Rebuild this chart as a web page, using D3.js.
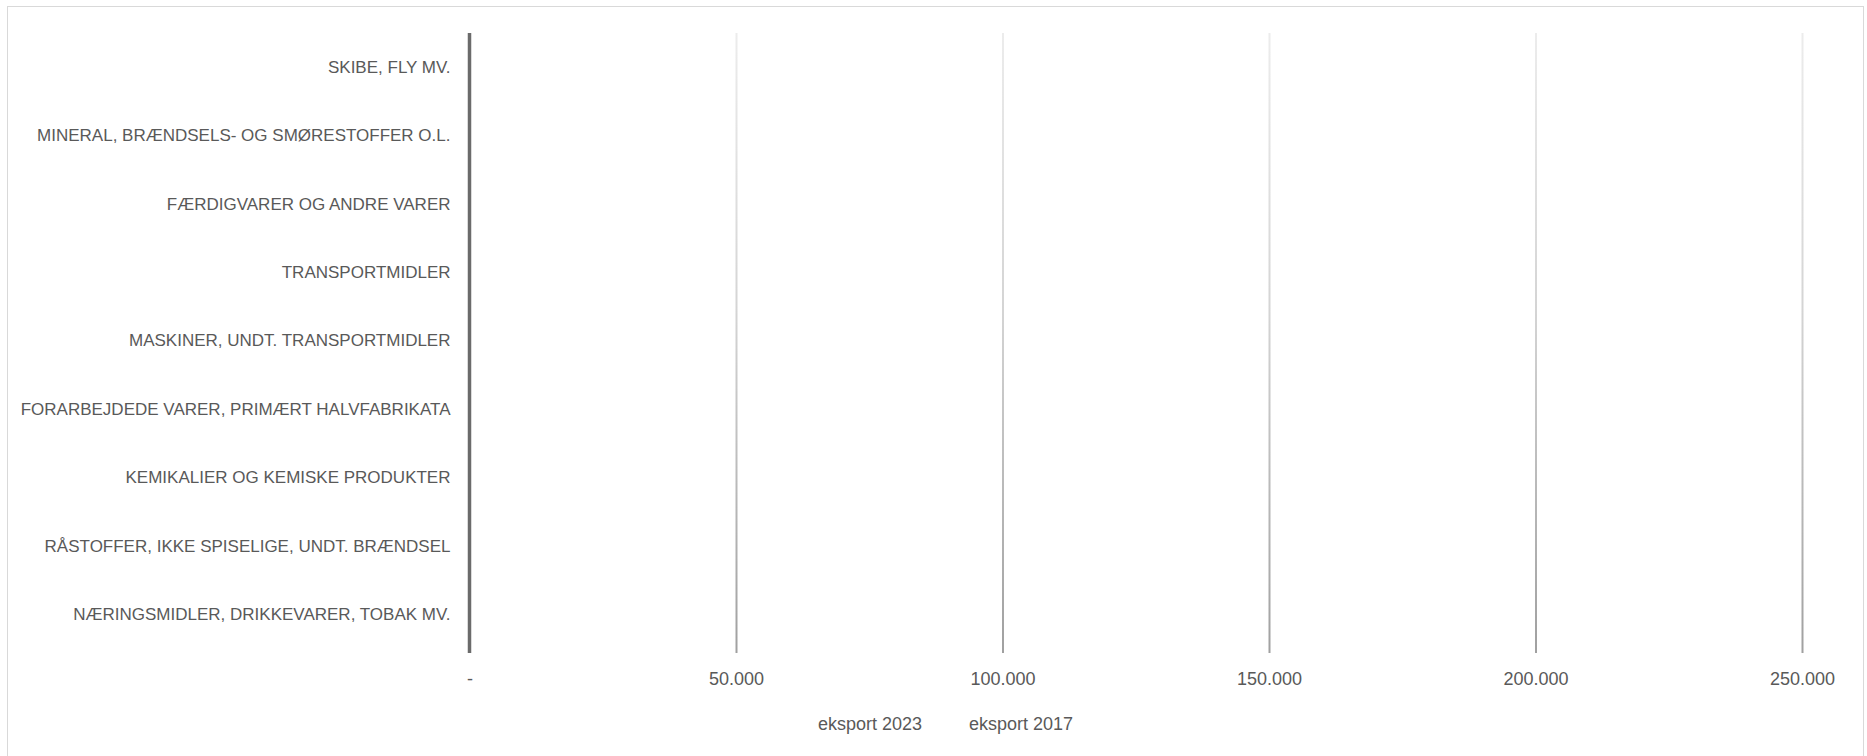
<!DOCTYPE html>
<html>
<head>
<meta charset="utf-8">
<script src="https://cdn.jsdelivr.net/npm/d3@7"></script>
<style>
  html, body { margin: 0; padding: 0; background: #fff; }
  svg { display: block; }
  text { font-family: "Liberation Sans", Arial, sans-serif; fill: #595959; }
</style>
</head>
<body>
<svg id="chart" width="1867" height="756"></svg>
<script>
// Categories, listed bottom to top as in the source sheet
const categories = [
  "NÆRINGSMIDLER, DRIKKEVARER, TOBAK MV.",
  "RÅSTOFFER, IKKE SPISELIGE, UNDT. BRÆNDSEL",
  "KEMIKALIER OG KEMISKE PRODUKTER",
  "FORARBEJDEDE VARER, PRIMÆRT HALVFABRIKATA",
  "MASKINER, UNDT. TRANSPORTMIDLER",
  "TRANSPORTMIDLER",
  "FÆRDIGVARER OG ANDRE VARER",
  "MINERAL, BRÆNDSELS- OG SMØRESTOFFER O.L.",
  "SKIBE, FLY MV."
];
const seriesNames = ["eksport 2023", "eksport 2017"];
// Values (mio. kr.) – bars are white in the source, estimated
const eksport2023 = [151000, 33000, 236000, 52000, 171000, 22000, 101000, 58000, 6000];
const eksport2017 = [137000, 27000, 110000, 43000, 131000, 17000, 84000, 36000, 4000];
const xTicks = [0, 50000, 100000, 150000, 200000, 250000];

const svg = d3.select("#chart");
const W = 1867, H = 756;
const plotTop = 33, plotBottom = 653, bandTop = 33, bandBottom = 649;
const margin = { left: 469.5, right: W - 1802 };

// chart border
svg.append("rect").attr("x", 7.5).attr("y", 6.5).attr("width", 1856).attr("height", 780)
  .attr("fill", "#fff").attr("stroke", "#d9d9d9").attr("stroke-width", 1);

const x = d3.scaleLinear().domain([0, 250000]).range([margin.left, W - margin.right]);
const y = d3.scaleBand().domain(categories.slice().reverse()).range([bandTop, bandBottom]).paddingInner(0.364).paddingOuter(0.182);
const ySub = d3.scaleBand().domain(seriesNames.slice().reverse()).range([0, y.bandwidth()]);

const fmt = v => v === 0 ? "-" : d3.format(",")(v).replace(/,/g, ".");

// bars (white in the original)
const data = categories.map((c, i) => ({ c, vals: [eksport2023[i], eksport2017[i]] }));
const g = svg.append("g");
g.selectAll("g.cat").data(data).join("g")
  .attr("transform", d => `translate(0,${y(d.c)})`)
  .selectAll("rect").data(d => d.vals.map((v, k) => ({ s: seriesNames[k], v })))
  .join("rect")
  .attr("x", x(0)).attr("y", d => ySub(d.s))
  .attr("width", d => x(d.v) - x(0)).attr("height", ySub.bandwidth())
  .attr("fill", "#ffffff");

// gridlines with vertical gradient (local coords: -height .. 0)
const gh = plotBottom - plotTop;
const defs = svg.append("defs");
const grad = defs.append("linearGradient").attr("id", "gridGrad")
  .attr("gradientUnits", "userSpaceOnUse")
  .attr("x1", 0).attr("x2", 0).attr("y1", -gh).attr("y2", 0);
grad.append("stop").attr("offset", "0%").attr("stop-color", "#ececec");
grad.append("stop").attr("offset", "45%").attr("stop-color", "#d4d4d4");
grad.append("stop").attr("offset", "100%").attr("stop-color", "#a0a0a0");

const gridAxis = d3.axisBottom(x).tickValues(xTicks.slice(1)).tickSize(-gh).tickFormat("");
const gridG = svg.append("g").attr("transform", `translate(0,${plotBottom})`).call(gridAxis);
gridG.select(".domain").remove();
gridG.selectAll(".tick line").attr("stroke", "url(#gridGrad)").attr("stroke-width", 2);

// x tick labels
const xAxis = d3.axisBottom(x).tickValues(xTicks).tickSize(0).tickPadding(0).tickFormat(fmt);
const xg = svg.append("g").attr("transform", `translate(0,${plotBottom + 32})`).call(xAxis);
xg.select(".domain").remove();
xg.selectAll("text").attr("font-size", 18).attr("dy", 0).style("font-family", "'Liberation Sans', Arial, sans-serif").attr("fill", "#595959");

// y axis
const yAxis = d3.axisLeft(y).tickSize(0).tickPadding(19);
const yg = svg.append("g").attr("transform", `translate(${margin.left},0)`).call(yAxis);
yg.select(".domain").remove();
yg.append("line").attr("x1", 0).attr("x2", 0).attr("y1", plotTop).attr("y2", plotBottom)
  .attr("stroke", "#6b6b6b").attr("stroke-width", 3.5);
yg.selectAll("text").attr("font-size", 17).style("font-family", "'Liberation Sans', Arial, sans-serif").attr("fill", "#595959");

// legend
const legendX = [818, 969];
const lg = svg.append("g");
seriesNames.forEach((s, i) => {
  lg.append("rect").attr("x", legendX[i] - 16).attr("y", 718).attr("width", 10).attr("height", 10).attr("fill", "#ffffff");
  lg.append("text").attr("x", legendX[i]).attr("y", 730).attr("font-size", 18).text(s);
});
</script>
</body>
</html>
